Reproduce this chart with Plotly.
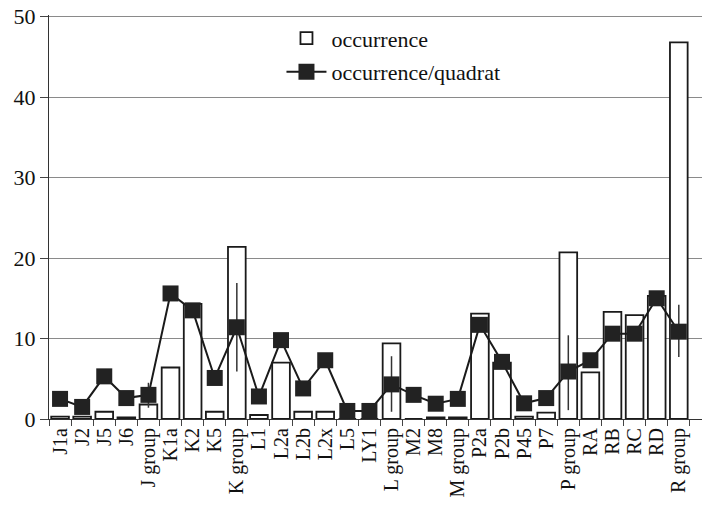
import plotly.graph_objects as go

categories = ["J1a", "J2", "J5", "J6", "J group", "K1a", "K2", "K5", "K group",
              "L1", "L2a", "L2b", "L2x", "L5", "LY1", "L group", "M2", "M8", "M group",
              "P2a", "P2b", "P45", "P7", "P group", "RA", "RB", "RC", "RD", "R group"]

occurrence = [0.3, 0.3, 0.9, 0.2, 1.8, 6.4, 14.3, 0.9, 21.4,
              0.5, 7.0, 0.9, 0.9, 0, 0, 9.4, 0, 0.2, 0.2,
              13.1, 7.0, 0.3, 0.8, 20.7, 5.8, 13.3, 12.9, 15.3, 46.8]

occ_per_quadrat = [2.5, 1.5, 5.3, 2.6, 3.0, 15.6, 13.5, 5.1, 11.4,
                   2.8, 9.8, 3.8, 7.3, 1.0, 1.0, 4.3, 3.0, 1.9, 2.5,
                   11.7, 7.1, 1.95, 2.6, 5.9, 7.3, 10.6, 10.6, 15.0, 10.85]

err_plus = [0, 0, 0, 0, 1.5, 0, 0, 0, 5.5,
            0, 0, 0, 0, 0, 0, 3.5, 0, 0, 0,
            0, 0, 0, 0, 4.5, 0, 0, 0, 0, 3.35]
err_minus = [0, 0, 0, 0, 1.6, 0, 0, 0, 5.5,
             0, 0, 0, 0, 0, 0, 3.4, 0, 0, 0,
             0, 0, 0, 0, 4.8, 0, 0, 0, 0, 3.15]

y_ticks = [0, 10, 20, 30, 40, 50]

font_family = "Liberation Serif, Times New Roman, serif"

fig = go.Figure()
fig.add_trace(go.Bar(
    x=categories, y=occurrence, name="occurrence", legendgroup="a",
    marker=dict(color="white", line=dict(color="#1a1a1a", width=1.8)),
    width=0.8,
))
fig.add_trace(go.Scatter(
    x=categories, y=occ_per_quadrat, name="occurrence/quadrat", legendgroup="b",
    mode="lines+markers",
    line=dict(color="#1a1a1a", width=2),
    marker=dict(symbol="square", size=16, color="#222222", line=dict(width=0)),
    error_y=dict(type="data", array=err_plus, arrayminus=err_minus,
                 width=0, thickness=1.5, color="#333333", visible=True),
))

fig.update_layout(
    width=702, height=513,
    margin=dict(l=49, r=0, t=14.9, b=94),
    paper_bgcolor="white", plot_bgcolor="white",
    font=dict(family=font_family, color="#111111", size=20),
    showlegend=True,
    legend=dict(x=0.356, y=0.994, xanchor="left", yanchor="top",
                bgcolor="rgba(255,255,255,0)", font=dict(size=22, family=font_family),
                tracegroupgap=2, itemwidth=40),
    bargap=0.2,
)
fig.update_xaxes(
    type="category", range=[-0.5, 29.05], automargin=False,
    tickmode="array", tickvals=categories, ticktext=categories,
    tickangle=-90, tickfont=dict(size=20, family=font_family),
    showline=True, linecolor="#333333", linewidth=1.2,
    ticks="outside", tickson="boundaries", ticklen=6, tickcolor="#444444",
    showgrid=False, ticklabeloverflow="allow",
)
fig.update_yaxes(
    range=[0, 50.2], automargin=False,
    tickmode="array", tickvals=y_ticks,
    tickfont=dict(size=22, family=font_family),
    showline=True, linecolor="#333333", linewidth=1.2,
    ticks="outside", ticklen=8, tickcolor="#444444",
    showgrid=True, gridcolor="#8a8a8a", gridwidth=1,
    zeroline=False, ticklabeloverflow="allow",
)

fig.write_html("out.html", config={"displayModeBar": False},
               post_script="document.body.style.margin='0';")
